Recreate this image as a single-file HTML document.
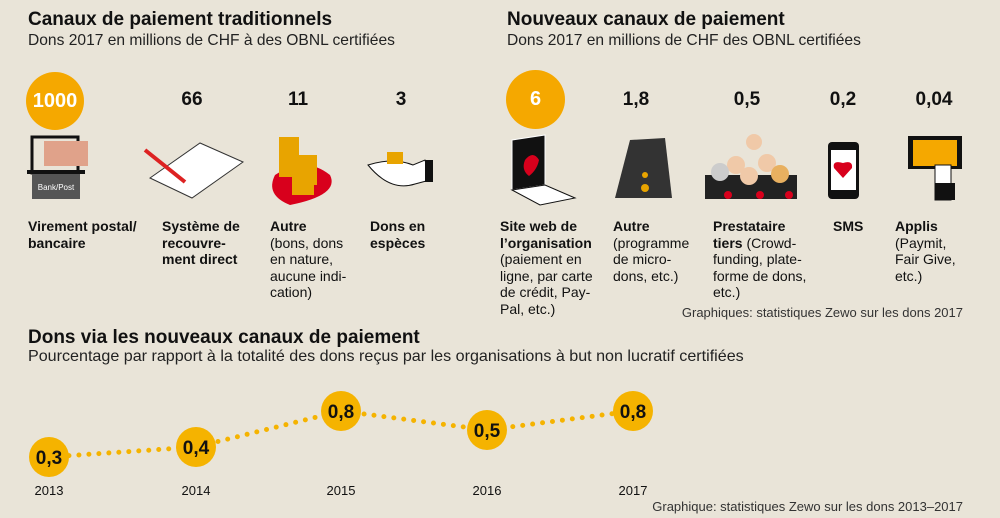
<!DOCTYPE html>
<html><head><meta charset="utf-8"><style>
body{margin:0;width:1000px;height:518px;background:#e9e4d8;font-family:"Liberation Sans",sans-serif;color:#111;position:relative;overflow:hidden}
.a{position:absolute;white-space:nowrap}
.t{font-size:19px;font-weight:bold}
.s{font-size:15.6px;color:#222}
.n{font-size:19px;font-weight:bold;transform:translateX(-50%)}
.l{font-size:14px;line-height:16.5px}
.l b{font-weight:bold}
.c{position:absolute;border-radius:50%;background:#f5a800;color:#fff;font-weight:bold;font-size:20px;display:flex;align-items:center;justify-content:center}
.y{font-size:13px;transform:translateX(-50%)}
</style></head><body>
<div class="a t" style="left:28px;top:9px">Canaux de paiement traditionnels</div>
<div class="a s" style="left:28px;top:32px">Dons 2017 en millions de CHF à des OBNL certifiées</div>
<div class="a t" style="left:507px;top:9px">Nouveaux canaux de paiement</div>
<div class="a s" style="left:507px;top:32px">Dons 2017 en millions de CHF des OBNL certifiées</div>

<div class="c" style="left:26px;top:72px;width:58px;height:58px">1000</div>
<div class="a n" style="left:192px;top:89px">66</div>
<div class="a n" style="left:298px;top:89px">11</div>
<div class="a n" style="left:401px;top:89px">3</div>
<div class="c" style="left:506px;top:70px;width:59px;height:59px">6</div>
<div class="a n" style="left:636px;top:89px">1,8</div>
<div class="a n" style="left:747px;top:89px">0,5</div>
<div class="a n" style="left:843px;top:89px">0,2</div>
<div class="a n" style="left:934px;top:89px">0,04</div>

<svg class="a" style="left:0;top:0" width="1000" height="210">
<rect x="32" y="137" width="46" height="36" fill="none" stroke="#111" stroke-width="3"/>
<rect x="44" y="141" width="44" height="25" fill="#e0a28a"/>
<rect x="27" y="170" width="58" height="4" fill="#111"/>
<rect x="32" y="174" width="48" height="25" fill="#555"/>
<text x="56" y="190" font-size="8" fill="#fff" text-anchor="middle" font-family="Liberation Sans">Bank/Post</text>
<polygon points="150,178 200,143 243,162 192,198" fill="#fff" stroke="#333"/>
<line x1="145" y1="150" x2="185" y2="182" stroke="#d22" stroke-width="4"/>
<path d="M275,175 q30,-20 55,0 q10,20 -40,30 q-25,-10 -15,-30z" fill="#d8001c"/>
<rect x="279" y="137" width="20" height="40" fill="#e8a400"/>
<rect x="297" y="155" width="20" height="30" fill="#e8a400"/>
<rect x="292" y="170" width="22" height="25" fill="#e8a400"/>
<path d="M368,165 q25,-8 45,0 l12,-5 5,20 -15,4 q-25,8 -47,-19z" fill="#fff" stroke="#111"/>
<rect x="425" y="160" width="8" height="22" fill="#111"/>
<rect x="387" y="152" width="16" height="12" fill="#e8a400"/>
<polygon points="512,140 545,135 545,185 512,190" fill="#111" stroke="#fff"/>
<polygon points="512,190 545,185 575,198 540,205" fill="#fff" stroke="#111"/>
<path d="M525,160 q8,-10 14,0 q-2,10 -10,16 q-8,-6 -4,-16z" fill="#d8001c"/>
<polygon points="630,140 665,138 672,198 615,198" fill="#333"/>
<circle cx="645" cy="175" r="3" fill="#e8a400"/><circle cx="645" cy="188" r="4" fill="#e8a400"/>
<rect x="705" y="175" width="92" height="24" fill="#222"/>
<circle cx="754" cy="142" r="8" fill="#f0c9a8"/><circle cx="736" cy="165" r="9" fill="#f0c9a8"/><circle cx="767" cy="163" r="9" fill="#f0c9a8"/><circle cx="720" cy="172" r="9" fill="#ccc"/><circle cx="749" cy="176" r="9" fill="#f0c9a8"/><circle cx="780" cy="174" r="9" fill="#e8b060"/>
<circle cx="728" cy="195" r="4" fill="#d8001c"/><circle cx="760" cy="195" r="4" fill="#d8001c"/><circle cx="789" cy="195" r="4" fill="#d8001c"/>
<rect x="828" y="142" width="31" height="57" rx="4" fill="#111"/>
<rect x="831" y="150" width="25" height="40" fill="#fff"/>
<path d="M843,178 l-9,-10 q-2,-8 9,-5 q10,-3 9,5z" fill="#d8001c"/>
<rect x="908" y="136" width="54" height="33" fill="#111"/>
<rect x="913" y="140" width="44" height="26" fill="#f5a800"/>
<rect x="935" y="165" width="16" height="35" fill="#fff" stroke="#111"/>
<rect x="935" y="183" width="20" height="17" fill="#111"/>
</svg>

<div class="a l" style="left:28px;top:218px"><b>Virement postal/<br>bancaire</b></div>
<div class="a l" style="left:162px;top:218px"><b>Système de<br>recouvre-<br>ment direct</b></div>
<div class="a l" style="left:270px;top:218px"><b>Autre</b><br>(bons, dons<br>en nature,<br>aucune indi-<br>cation)</div>
<div class="a l" style="left:370px;top:218px"><b>Dons en<br>espèces</b></div>
<div class="a l" style="left:500px;top:218px"><b>Site web de<br>l’organisation</b><br>(paiement en<br>ligne, par carte<br>de crédit, Pay-<br>Pal, etc.)</div>
<div class="a l" style="left:613px;top:218px"><b>Autre</b><br>(programme<br>de micro-<br>dons, etc.)</div>
<div class="a l" style="left:713px;top:218px"><b>Prestataire<br>tiers</b> (Crowd-<br>funding, plate-<br>forme de dons,<br>etc.)</div>
<div class="a l" style="left:833px;top:218px"><b>SMS</b></div>
<div class="a l" style="left:895px;top:218px"><b>Applis</b><br>(Paymit,<br>Fair Give,<br>etc.)</div>
<div class="a" style="right:37px;top:305px;font-size:13px;color:#333">Graphiques: statistiques Zewo sur les dons 2017</div>

<div class="a t" style="left:28px;top:327px">Dons via les nouveaux canaux de paiement</div>
<div class="a s" style="left:28px;top:347px;font-size:16.1px">Pourcentage par rapport à la totalité des dons reçus par les organisations à but non lucratif certifiées</div>

<svg class="a" style="left:0;top:0" width="1000" height="518">
<polyline points="49,457 196,447 341,411 487,430 633,411" fill="none" stroke="#f5b300" stroke-width="5" stroke-linecap="round" stroke-dasharray="0 10"/>
<g fill="#f5b300"><circle cx="49" cy="457" r="20"/><circle cx="196" cy="447" r="20"/><circle cx="341" cy="411" r="20"/><circle cx="487" cy="430" r="20"/><circle cx="633" cy="411" r="20"/></g>
<g font-family="Liberation Sans" font-weight="bold" font-size="19" fill="#111" text-anchor="middle">
<text x="49" y="464">0,3</text><text x="196" y="454">0,4</text><text x="341" y="418">0,8</text><text x="487" y="437">0,5</text><text x="633" y="418">0,8</text></g>
</svg>
<div class="a y" style="left:49px;top:483px">2013</div>
<div class="a y" style="left:196px;top:483px">2014</div>
<div class="a y" style="left:341px;top:483px">2015</div>
<div class="a y" style="left:487px;top:483px">2016</div>
<div class="a y" style="left:633px;top:483px">2017</div>
<div class="a" style="right:37px;top:499px;font-size:13px;color:#333">Graphique: statistiques Zewo sur les dons 2013–2017</div>
</body></html>
